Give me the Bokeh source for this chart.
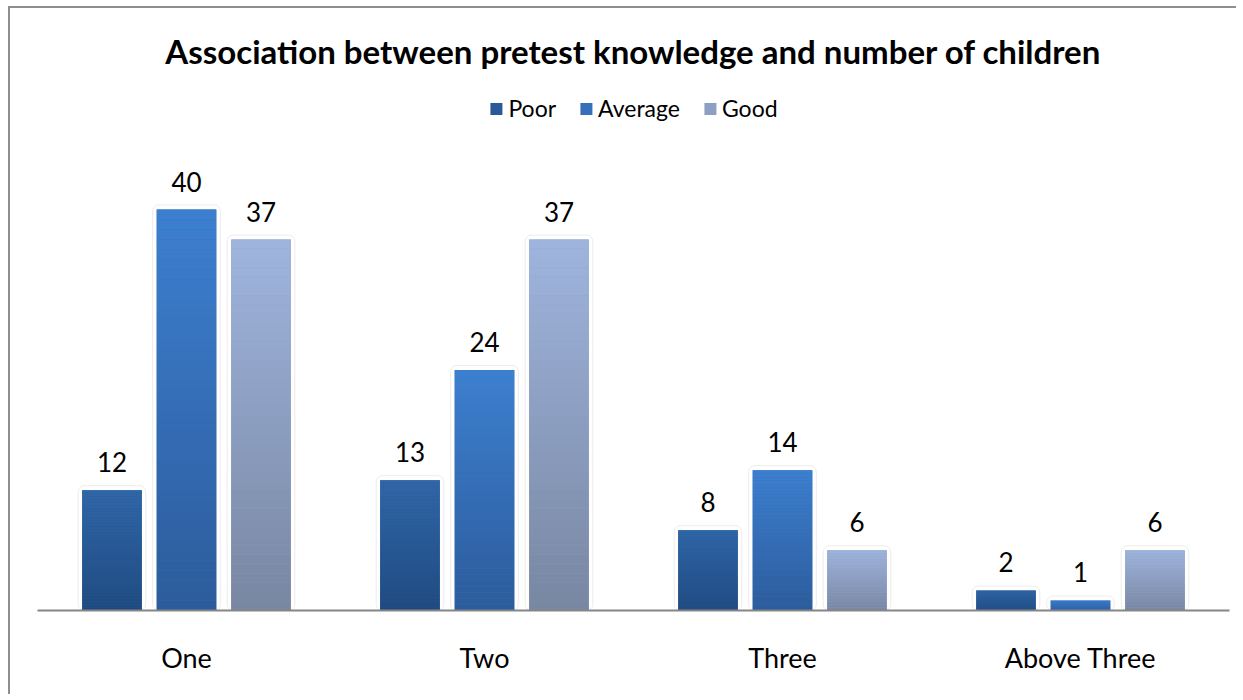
from bokeh.plotting import figure
from bokeh.models import ColumnDataSource, FactorRange, Range1d, Label, Legend, LegendItem
from bokeh.transform import dodge
from bokeh.core.properties import value
from bokeh.embed import file_html
from bokeh.resources import INLINE

# ---------------- data ----------------
categories = ["One", "Two", "Three", "Above Three"]
series = ["Poor", "Average", "Good"]
poor = [12, 13, 8, 2]
average = [40, 24, 14, 1]
good = [37, 37, 6, 6]
title_text = "Association between pretest knowledge and number of children"

# ---------------- style ----------------
FONT = "Lato"
top_colors = {"Poor": (48, 102, 168), "Average": (61, 127, 208), "Good": (159, 181, 222)}
bottom_colors = {"Poor": (31, 74, 128), "Average": (44, 92, 155), "Good": (120, 134, 161)}
legend_colors = {"Poor": "#2a5a96", "Average": "#3670bb", "Good": "#8d9fc2"}
offsets = [-0.25, 0.0, 0.25]
BAR_W = 0.2
N_SLICES = 40
PX_PER_UNIT = 10.025
FRAME_H = 602

values = {"Poor": poor, "Average": average, "Good": good}

p = figure(
    x_range=FactorRange(*categories, range_padding=0),
    y_range=Range1d(0, FRAME_H / PX_PER_UNIT),
    width=1228, height=688,
    output_backend="svg", toolbar_location=None,
    y_axis_location=None,
    min_border_left=27, min_border_right=9,
    min_border_top=0, min_border_bottom=86,
    outline_line_color=None,
    background_fill_color="white", border_fill_color="white",
)
# chart-area border (only the top and left edges fall inside the picture)
p.styles = {"margin-left": "10px", "margin-top": "8px",
            "box-shadow": "-2px -2px 0px 0px #8e8e8e"}
p.xgrid.grid_line_color = None
p.ygrid.grid_line_color = None


def hexcol(c):
    return "#%02x%02x%02x" % tuple(int(round(v)) for v in c)


legend_items = []
for s, off in zip(series, offsets):
    vals = values[s]
    tc, bc = top_colors[s], bottom_colors[s]
    mid = tuple((tc[k] + bc[k]) / 2 for k in range(3))
    # soft glow outline behind each bar
    glow = ColumnDataSource(dict(cat=categories, top=[v + 0.45 for v in vals]))
    p.vbar(x=dodge("cat", off, range=p.x_range), top="top", bottom=0,
           width=BAR_W + 8 / 298, source=glow, fill_color=None,
           line_color="#ececec", line_width=1, border_radius=6)
    # solid base under the gradient
    base = ColumnDataSource(dict(cat=categories, top=vals))
    p.vbar(x=dodge("cat", off, range=p.x_range), top="top", bottom=0,
           width=BAR_W, source=base, fill_color=hexcol(mid), line_color=None)
    # gradient slices
    cats, bots, tops, cols = [], [], [], []
    for c, v in zip(categories, vals):
        for i in range(N_SLICES):
            f = (i + 0.5) / N_SLICES
            col = tuple(bc[k] + (tc[k] - bc[k]) * f for k in range(3))
            cats.append(c)
            bots.append(v * i / N_SLICES)
            tops.append(v * (i + 1) / N_SLICES)
            cols.append(hexcol(col))
    src = ColumnDataSource(dict(cat=cats, bottom=bots, top=tops, color=cols))
    p.vbar(x=dodge("cat", off, range=p.x_range), top="top", bottom="bottom",
           width=BAR_W, source=src, fill_color="color", line_color=None)
    # legend proxy (zero-height bar)
    lr = p.vbar(x=[categories[0]], top=[0], bottom=[0], width=BAR_W,
                fill_color=legend_colors[s], line_color=None)
    legend_items.append(LegendItem(label=s, renderers=[lr]))
    # value labels
    lab = ColumnDataSource(dict(cat=categories, val=vals, txt=[str(v) for v in vals]))
    p.text(x=dodge("cat", off, range=p.x_range), y="val", text="txt", source=lab,
           text_align="center", text_baseline="alphabetic", y_offset=-28,
           text_font=value(FONT), text_font_size="26px", text_color="#000000")

legend = Legend(items=legend_items, orientation="horizontal", location="top_center",
                glyph_width=15, glyph_height=15, label_standoff=5, spacing=22,
                padding=0, margin=86, border_line_color=None, background_fill_alpha=0,
                label_text_font=FONT, label_text_font_size="23px", label_text_color="#000000")
p.add_layout(legend, "center")

title = Label(x=2.0, y=(FRAME_H - 42) / PX_PER_UNIT, text=title_text,
              text_align="center", text_baseline="alphabetic",
              text_font=FONT, text_font_size="33px", text_font_style="bold",
              text_color="#000000")
p.add_layout(title)

ax = p.xaxis[0]
ax.axis_line_color = "#868686"
ax.axis_line_width = 2
ax.major_tick_line_color = None
ax.minor_tick_line_color = None
ax.major_tick_in = 0
ax.major_tick_out = 0
ax.major_label_standoff = 30
ax.major_label_text_font = FONT
ax.major_label_text_font_size = "27px"
ax.major_label_text_color = "#000000"

open("out.html", "w").write(file_html(p, INLINE))
